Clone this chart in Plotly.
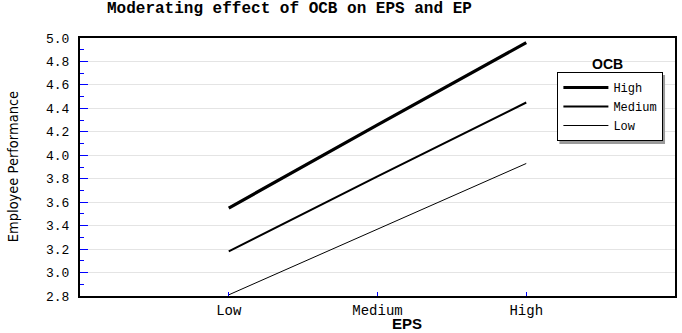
import plotly.graph_objects as go

# Simple slopes: Employee Performance by EPS level, for three OCB levels
eps_levels = ["Low", "Medium", "High"]
ocb_high = [3.55, 4.26, 4.96]
ocb_medium = [3.18, 3.82, 4.45]
ocb_low = [2.81, 3.37, 3.93]

x_pos = [1, 2, 3]
series = [
    ("High", ocb_high, 3.2),
    ("Medium", ocb_medium, 2.0),
    ("Low", ocb_low, 1.0),
]

W, H = 682, 333
ML, MR, MT, MB = 80, 5, 38, 37
PW, PH = W - ML - MR, H - MT - MB

def px_x(v):
    return (v - ML) / PW

def px_y(v):
    return (H - MB - v) / PH

fig = go.Figure()
for name, vals, w in series:
    fig.add_trace(go.Scatter(
        x=x_pos, y=vals, mode="lines", name=name,
        line=dict(color="black", width=w),
    ))

mono = "Liberation Mono, DejaVu Sans Mono, monospace"

fig.update_layout(
    width=W, height=H,
    margin=dict(l=ML, r=MR, t=MT, b=MB),
    paper_bgcolor="white", plot_bgcolor="white",
    showlegend=True,
    legend=dict(
        x=px_x(559), y=px_y(72), xanchor="left", yanchor="top",
        bgcolor="white", bordercolor="black", borderwidth=1,
        font=dict(family=mono, size=12, color="black"),
        tracegroupgap=0, itemwidth=45,
    ),
    xaxis=dict(
        range=[0, 4], tickvals=x_pos, ticktext=eps_levels,
        ticks="inside", ticklen=4, tickcolor="blue", tickwidth=1,
        showgrid=False, zeroline=False,
        showline=True, linecolor="black", linewidth=2, mirror=True,
        tickfont=dict(family=mono, size=14, color="black"),
    ),
    yaxis=dict(
        range=[2.8, 5.0], dtick=0.2, tick0=2.8, tickformat=".1f",
        ticks="inside", ticklen=8, tickcolor="blue", tickwidth=1,
        minor=dict(ticks="inside", dtick=0.1, ticklen=4, tickcolor="blue", showgrid=False),
        showgrid=True, gridcolor="#e4e4e4", gridwidth=1,
        zeroline=False, ticklabelstandoff=6,
        showline=True, linecolor="black", linewidth=2, mirror=True,
        tickfont=dict(family=mono, size=13, color="black"),
    ),
    annotations=[
        dict(text="<b>Moderating effect of OCB on EPS and EP</b>",
             x=px_x(290), y=px_y(9), xref="paper", yref="paper",
             xanchor="center", yanchor="middle", showarrow=False,
             font=dict(family=mono, size=16, color="black")),
        dict(text="<b>EPS</b>",
             x=px_x(408), y=px_y(323), xref="paper", yref="paper",
             xanchor="center", yanchor="middle", showarrow=False,
             font=dict(family="Liberation Sans, Arial, sans-serif", size=15, color="black")),
        dict(text="Employee Performance", textangle=-90,
             x=px_x(13), y=px_y(167), xref="paper", yref="paper",
             xanchor="center", yanchor="middle", showarrow=False,
             font=dict(family="Liberation Sans Narrow, DejaVu Sans Condensed, sans-serif",
                       size=14.5, color="black")),
        dict(text="<b>OCB</b>",
             x=px_x(609), y=px_y(64), xref="paper", yref="paper",
             xanchor="center", yanchor="middle", showarrow=False,
             font=dict(family="Liberation Sans, Arial, sans-serif", size=14, color="black")),
    ],
    shapes=[
        # drop shadow behind the legend box
        dict(type="rect", xref="paper", yref="paper",
             x0=px_x(561), x1=px_x(667), y0=px_y(75), y1=px_y(144),
             fillcolor="#9a9a9a", line=dict(width=0), layer="above"),
    ],
)

fig.write_html("out.html")
